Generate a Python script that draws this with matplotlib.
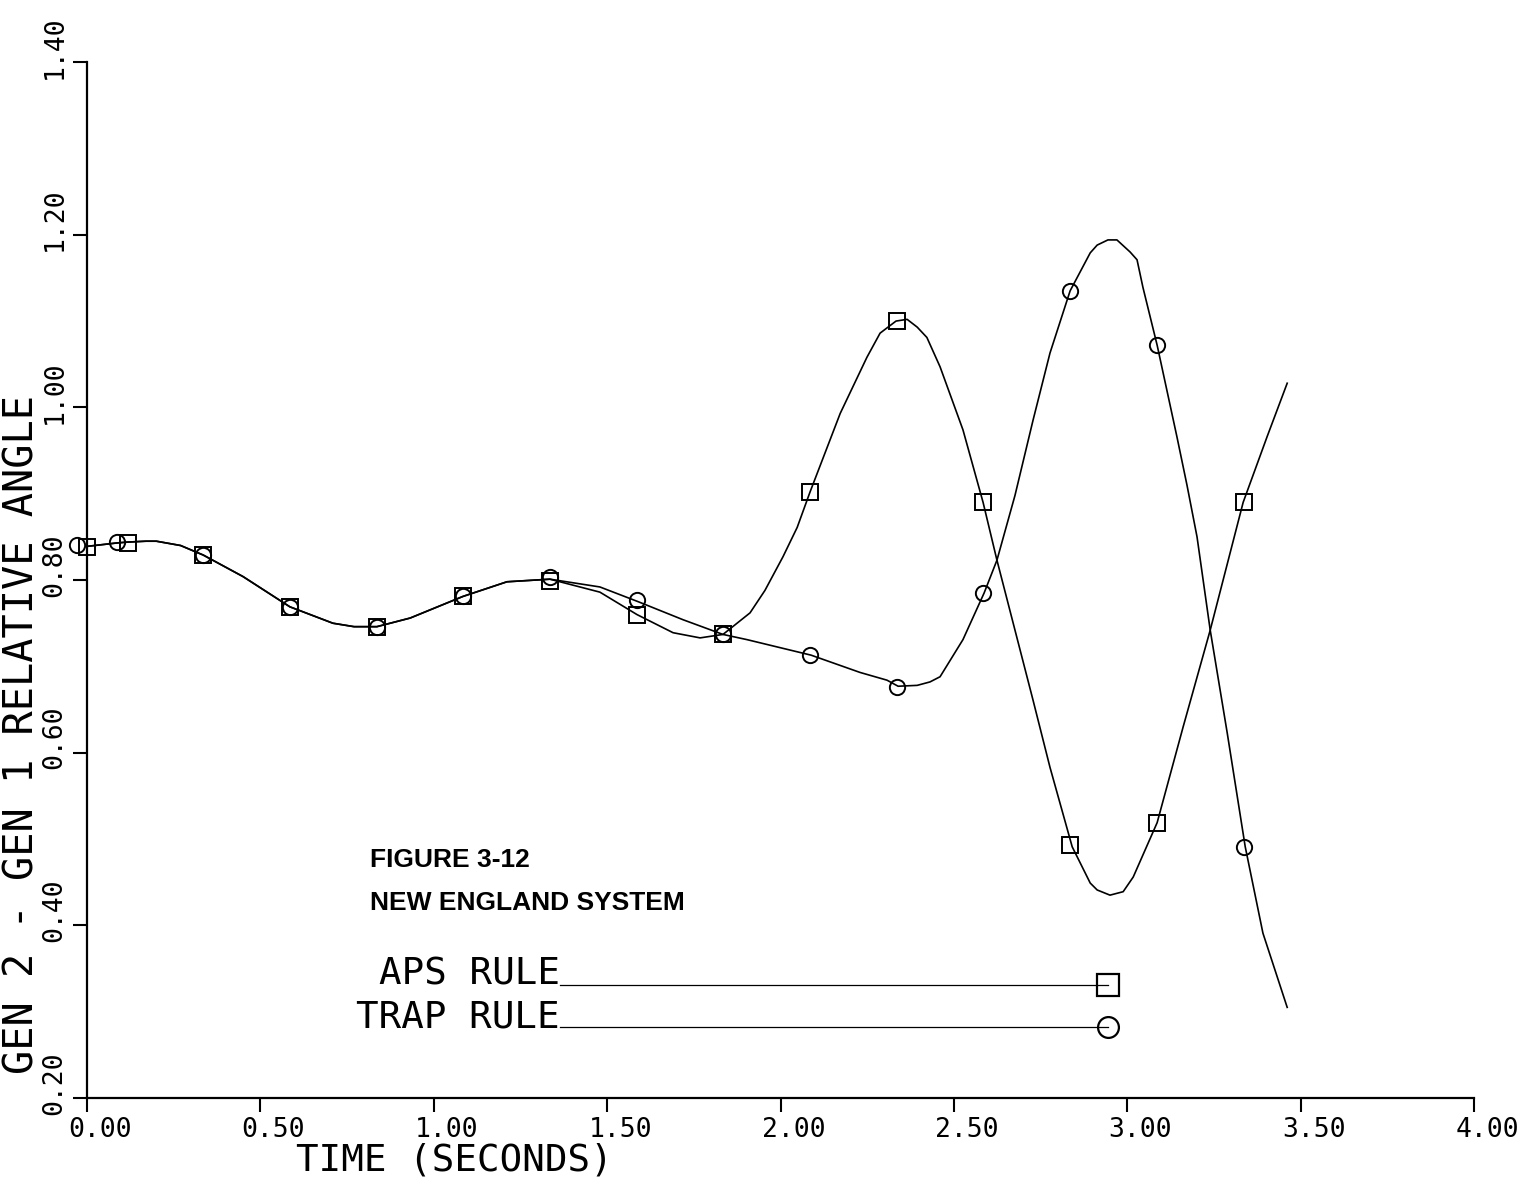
import matplotlib
matplotlib.use("Agg")
import matplotlib.pyplot as plt
import matplotlib.transforms as mtransforms

# Traces: time (s) vs GEN 2 - GEN 1 relative angle
common_t = [0.000, 0.087, 0.118, 0.170, 0.200, 0.270, 0.335, 0.450, 0.585, 0.709, 0.770, 0.836, 0.932,
            1.084, 1.211, 1.335]
common_v = [0.839, 0.843, 0.844, 0.845, 0.845, 0.840, 0.829, 0.804, 0.769, 0.750, 0.746, 0.746, 0.756,
            0.781, 0.798, 0.801]

trap_t = [1.479, 1.589, 1.719, 1.834, 1.903, 2.088, 2.229, 2.307, 2.339, 2.394, 2.431, 2.460, 2.526,
          2.587, 2.624, 2.676, 2.728, 2.777, 2.835, 2.893, 2.913, 2.944, 2.970, 3.008, 3.028, 3.045,
          3.086, 3.143, 3.172, 3.201, 3.239, 3.288, 3.340, 3.391, 3.461]
trap_v = [0.792, 0.775, 0.754, 0.737, 0.731, 0.713, 0.693, 0.684, 0.677, 0.678, 0.682, 0.688, 0.731,
          0.785, 0.823, 0.898, 0.985, 1.063, 1.135, 1.179, 1.188, 1.194, 1.194, 1.180, 1.171, 1.139,
          1.072, 0.966, 0.910, 0.850, 0.742, 0.623, 0.491, 0.391, 0.305]

aps_t = [1.479, 1.586, 1.690, 1.768, 1.834, 1.912, 1.955, 2.007, 2.048, 2.085, 2.172, 2.249, 2.287,
         2.333, 2.365, 2.394, 2.422, 2.460, 2.526, 2.584, 2.624, 2.676, 2.728, 2.777, 2.841, 2.893,
         2.913, 2.950, 2.988, 3.017, 3.086, 3.161, 3.239, 3.334, 3.403, 3.461]
aps_v = [0.786, 0.760, 0.739, 0.733, 0.737, 0.762, 0.788, 0.827, 0.861, 0.902, 0.993, 1.058, 1.086,
         1.100, 1.102, 1.093, 1.081, 1.047, 0.974, 0.890, 0.823, 0.742, 0.661, 0.583, 0.491, 0.449,
         0.441, 0.435, 0.439, 0.456, 0.519, 0.630, 0.742, 0.890, 0.966, 1.028]

# plotted symbols
trap_mark_t = [-0.029, 0.087, 0.335, 0.585, 0.835, 1.085, 1.335, 1.585, 1.835, 2.085, 2.335, 2.585, 2.835, 3.085, 3.335]
trap_mark_v = [0.841, 0.844, 0.829, 0.769, 0.746, 0.781, 0.803, 0.777, 0.737, 0.713, 0.676, 0.785, 1.135, 1.072, 0.491]
aps_mark_t = [0.000, 0.118, 0.335, 0.585, 0.835, 1.085, 1.335, 1.585, 1.835, 2.085, 2.335, 2.585, 2.835, 3.085, 3.335]
aps_mark_v = [0.838, 0.843, 0.829, 0.769, 0.746, 0.781, 0.799, 0.760, 0.737, 0.902, 1.100, 0.890, 0.493, 0.519, 0.890]

x_ticks = [0.0, 0.5, 1.0, 1.5, 2.0, 2.5, 3.0, 3.5, 4.0]
x_ticklabels = ["0.00", "0.50", "1.00", "1.50", "2.00", "2.50", "3.00", "3.50", "4.00"]
y_ticks = [0.2, 0.4, 0.6, 0.8, 1.0, 1.2, 1.4]
y_ticklabels = ["0.20", "0.40", "0.60", "0.80", "1.00", "1.20", "1.40"]

MONO = ["DejaVu Sans Mono"]
NARROW = ["Liberation Sans", "DejaVu Sans"]

plt.rcParams.update({
    "font.family": MONO,
    "axes.linewidth": 1.6,
})

fig = plt.figure(figsize=(15.29, 11.78), dpi=100)
ax = fig.add_axes([0.0569, 0.0679, 0.9072, 0.8794])

ax.plot(common_t + trap_t, common_v + trap_v, color="black", linewidth=1.2)
ax.plot(common_t + aps_t, common_v + aps_v, color="black", linewidth=1.2)
ax.plot(trap_mark_t, trap_mark_v, linestyle="none", marker="o", markersize=11,
        markerfacecolor="none", markeredgecolor="black", markeredgewidth=1.4, clip_on=False)
ax.plot(aps_mark_t, aps_mark_v, linestyle="none", marker="s", markersize=11,
        markerfacecolor="none", markeredgecolor="black", markeredgewidth=1.4, clip_on=False)

# legend as drawn by the plotter
ax.plot([1.364, 2.944], [0.331, 0.331], color="black", linewidth=0.9)
ax.plot([2.944], [0.331], marker="s", markersize=16, markerfacecolor="none",
        markeredgecolor="black", markeredgewidth=1.6)
ax.plot([1.364, 2.944], [0.282, 0.282], color="black", linewidth=0.9)
ax.plot([2.944], [0.282], marker="o", markersize=15, markerfacecolor="none",
        markeredgecolor="black", markeredgewidth=1.6)
ax.text(1.364, 0.331, "APS RULE", ha="right", va="baseline", fontsize=27, family=MONO)
ax.text(1.364, 0.282, "TRAP RULE", ha="right", va="baseline", fontsize=27, family=MONO)

ax.text(0.816, 0.476, "FIGURE 3-12", ha="left", va="center", fontsize=19,
        fontweight="bold", family=NARROW)
ax.text(0.816, 0.426, "NEW ENGLAND SYSTEM", ha="left", va="center", fontsize=19,
        fontweight="bold", family=NARROW)

ax.set_xlim(0, 4.0)
ax.set_ylim(0.2, 1.4)
ax.set_xticks(x_ticks)
ax.set_xticklabels(x_ticklabels)
ax.set_yticks(y_ticks)
ax.set_yticklabels(y_ticklabels, rotation=90, va="center")

ax.spines["top"].set_visible(False)
ax.spines["right"].set_visible(False)
ax.tick_params(direction="out", length=10, width=1.5, labelsize=19, pad=4)

# the plotter puts the decimal point on the tick
for lab in ax.get_xticklabels():
    lab.set_transform(lab.get_transform() + mtransforms.ScaledTranslation(0.13, 0, fig.dpi_scale_trans))
for lab in ax.get_yticklabels():
    lab.set_transform(lab.get_transform() + mtransforms.ScaledTranslation(0, 0.15, fig.dpi_scale_trans))

ax.set_xlabel("TIME (SECONDS)", fontsize=27)
ax.xaxis.set_label_coords(0.265, -0.043)
ax.set_ylabel("GEN 2 - GEN 1 RELATIVE ANGLE", fontsize=29)
ax.yaxis.set_label_coords(-0.032, 0.351)

fig.savefig("out.png", dpi=100)
plt.close(fig)
